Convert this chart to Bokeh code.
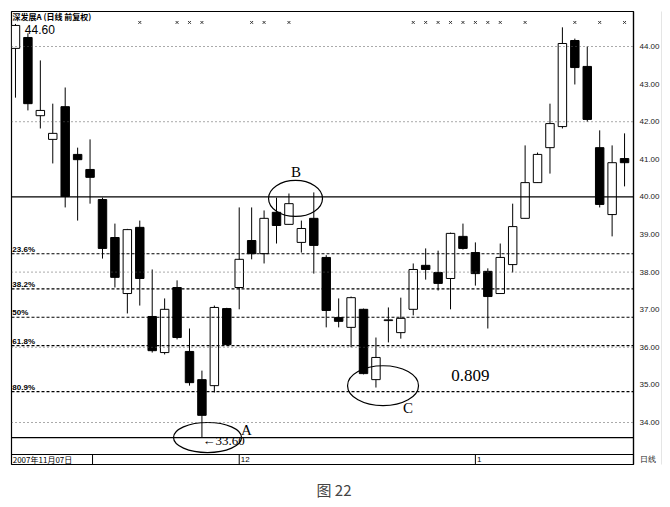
from bokeh.plotting import figure
from bokeh.models import (ColumnDataSource, Range1d, LinearAxis, FixedTicker, Span, Title,
                          NumeralTickFormatter)
from bokeh.core.properties import value
from bokeh.embed import file_html
from bokeh.resources import INLINE

# ---------------- data ----------------
days = list(range(50))
opens = [43.95, 44.24, 42.16, 41.53, 42.40, 41.13, 40.73, 39.93, 38.92, 37.43,
         39.19, 36.82, 35.86, 37.59, 35.89, 35.14, 34.98, 37.03, 37.59, 38.84,
         38.49, 39.59, 39.27, 38.79, 39.43, 38.39, 36.79, 36.53, 37.01, 35.14,
         36.71, 36.39, 37.01, 38.18, 37.99, 37.83, 38.95, 38.52, 38.02, 37.43,
         38.20, 39.43, 40.38, 41.31, 41.87, 44.16, 43.47, 41.31, 39.53, 41.02]
closes = [44.56, 42.48, 42.30, 41.69, 40.01, 40.99, 40.52, 38.63, 37.86, 39.13,
          37.83, 35.91, 37.01, 36.26, 35.06, 34.19, 37.06, 36.07, 38.34, 38.49,
          39.43, 39.24, 39.82, 39.16, 38.71, 36.98, 36.69, 37.32, 35.30, 35.73,
          36.73, 36.77, 38.07, 38.07, 37.70, 39.03, 38.63, 37.96, 37.35, 38.39,
          39.21, 40.38, 41.13, 41.95, 44.08, 43.44, 42.06, 39.80, 40.91, 40.91]
highs = [44.60, 44.35, 43.63, 42.48, 42.91, 41.31, 41.53, 39.98, 39.29, 39.15,
         39.37, 38.07, 37.30, 37.78, 36.50, 35.38, 37.11, 37.05, 39.72, 39.72,
         39.64, 39.98, 40.09, 39.37, 40.12, 38.45, 37.30, 37.35, 37.03, 36.26,
         37.06, 37.32, 38.23, 38.63, 38.57, 39.05, 39.29, 38.79, 38.10, 38.76,
         39.82, 41.37, 41.18, 42.48, 44.51, 44.21, 44.00, 41.77, 41.37, 41.69]
lows = [42.64, 42.30, 41.82, 40.89, 39.72, 39.37, 39.82, 38.36, 37.59, 36.90,
        37.11, 35.86, 35.81, 36.21, 34.98, 33.60, 34.80, 36.05, 37.01, 38.34,
        38.23, 38.76, 39.27, 38.52, 37.96, 36.53, 36.53, 36.00, 35.28, 34.93,
        36.13, 36.23, 36.85, 37.80, 37.51, 37.01, 38.60, 37.64, 36.50, 37.43,
        37.99, 39.43, 40.38, 40.62, 41.82, 42.99, 42.00, 39.72, 38.95, 40.28]

price_ticks = [34, 35, 36, 37, 38, 39, 40, 41, 42, 43, 44]
grid_levels = [34, 36, 38, 42, 44]
fib_top = 40.00
fib_bottom = 33.60
fib_ratios = [0.236, 0.382, 0.5, 0.618, 0.809]
fib_labels = ["23.6%", "38.2%", "50%", "61.8%", "80.9%"]
marker_days = [10, 13, 14, 15, 19, 20, 22, 32, 33, 34, 35, 36, 37, 38, 39, 41, 45, 47, 49]
date_tick_days = [18, 37]
date_tick_labels = ["12", "1"]
first_date_label = "2007年11月07日"
period_label = "日线"
title_text = "深发展A (日线 前复权)"
high_label = "44.60"
low_label = "←33.60"

# ---------------- figure ----------------
Y_TOP, Y_BOT = 44.931, 32.883
BAR_LINE = 33.149
BAR_MID = 33.016

p = figure(frame_width=622, frame_height=453,
           x_range=Range1d(-0.32, 49.72), y_range=Range1d(Y_BOT, Y_TOP),
           output_backend="svg", toolbar_location=None,
           x_axis_type=None, y_axis_location="right",
           min_border_left=11, min_border_top=11, min_border_right=0, min_border_bottom=0,
           background_fill_color="white", border_fill_color="white")
p.outline_line_color = "black"
p.outline_line_width = 1.2
p.grid.visible = False

ax = p.yaxis[0]
ax.ticker = FixedTicker(ticks=price_ticks + [BAR_MID])
ax.formatter = NumeralTickFormatter(format="0.00")
ax.major_label_overrides = {BAR_MID: period_label}
ax.axis_line_color = "black"
ax.axis_line_width = 1.2
ax.major_tick_out = 0
ax.major_tick_in = 0
ax.minor_tick_out = 0
ax.minor_tick_in = 0
ax.major_label_standoff = 6
ax.major_label_text_font_size = "8px"
ax.major_label_text_font = "Liberation Sans"
ax.major_label_text_color = "#222222"

ax2 = LinearAxis(ticker=FixedTicker(ticks=[]), axis_line_color="black", axis_line_width=1.2,
                 major_tick_out=0, major_tick_in=0, minor_tick_out=0, minor_tick_in=0,
                 major_label_text_font_size="0px")
p.add_layout(ax2, "right")

# grid + fib lines
for g in grid_levels:
    p.add_layout(Span(location=g, dimension="width", line_color="#555555",
                      line_dash="1 3", line_width=1))
fib_levels = [fib_top - (fib_top - fib_bottom) * r for r in fib_ratios]
for f in fib_levels:
    p.add_layout(Span(location=f, dimension="width", line_color="black",
                      line_dash="3 2", line_width=1.1))
for f in [fib_top, fib_bottom]:
    p.add_layout(Span(location=f, dimension="width", line_color="black", line_width=1.2))
p.text(x=[-0.25] * len(fib_labels), y=fib_levels, text=fib_labels,
       text_font=value("Liberation Sans"), text_font_size="8px", text_font_style="bold",
       text_align="left", text_baseline="bottom", text_color="black")

# candles
src = ColumnDataSource(dict(x=days, o=opens, c=closes, h=highs, l=lows,
                            top=[max(a, b) for a, b in zip(opens, closes)],
                            bot=[min(a, b) for a, b in zip(opens, closes)],
                            fill=["white" if c >= o else "black" for o, c in zip(opens, closes)]))
p.segment(x0="x", y0="h", x1="x", y1="l", source=src, line_color="black", line_width=1)
p.vbar(x="x", top="top", bottom="bot", width=0.68, source=src,
       fill_color="fill", line_color="black", line_width=1)

# markers along top
p.scatter(x=marker_days, y=[44.64] * len(marker_days), marker="x", size=4,
          line_color="#333333", line_width=1)

# date bar (inside the frame bottom)
p.add_layout(Span(location=BAR_LINE, dimension="width", line_color="black", line_width=1.2))
p.segment(x0=[6.2] + date_tick_days, y0=[Y_BOT] * 3, x1=[6.2] + date_tick_days,
          y1=[BAR_LINE] * 3, line_color="black", line_width=1)
p.text(x=[-0.22], y=[BAR_MID], text=[first_date_label], text_font=value("Noto Sans CJK SC"),
       text_font_size="8px", text_align="left", text_baseline="middle", text_color="black")
p.text(x=[d + 0.12 for d in date_tick_days], y=[BAR_MID] * 2, text=date_tick_labels,
       text_font=value("Liberation Sans"), text_font_size="8px", text_align="left",
       text_baseline="middle", text_color="black")

# title in frame
p.text(x=[-0.24], y=[44.80], text=[title_text], text_font=value("Noto Sans CJK SC"),
       text_font_size="8px", text_font_style="bold", text_align="left",
       text_baseline="middle", text_color="black")

# high / low labels
p.text(x=[0.75], y=[44.45], text=[high_label], text_font=value("Liberation Sans"),
       text_font_size="12px", text_align="left", text_baseline="middle", text_color="black")
p.text(x=[15.05], y=[33.52], text=[low_label], text_font=value("Liberation Serif"),
       text_font_size="13px", text_align="left", text_baseline="middle", text_color="black")

# ellipses A, B, C
p.ellipse(x=[15.45, 22.53, 29.57], y=[33.60, 39.96, 34.98],
          width=[5.47, 4.34, 5.71], height=[0.80, 0.96, 1.06],
          fill_color=None, line_color="black", line_width=1.2)
p.text(x=[18.58, 22.57, 31.58], y=[33.79, 40.65, 34.39], text=["A", "B", "C"],
       text_font=value("Liberation Serif"), text_font_size="15px", text_align="center",
       text_baseline="middle", text_color="black")
p.text(x=[36.6], y=[35.25], text=["0.809"], text_font=value("Liberation Serif"),
       text_font_size="17px", text_align="center", text_baseline="middle", text_color="black")

# caption
cap = Title(text="图 22", align="left", text_font_size="15px", text_font_style="normal",
            text_font="Noto Sans CJK SC", standoff=24, offset=305)
p.add_layout(cap, "below")

open("out.html", "w").write(file_html(p, INLINE))
